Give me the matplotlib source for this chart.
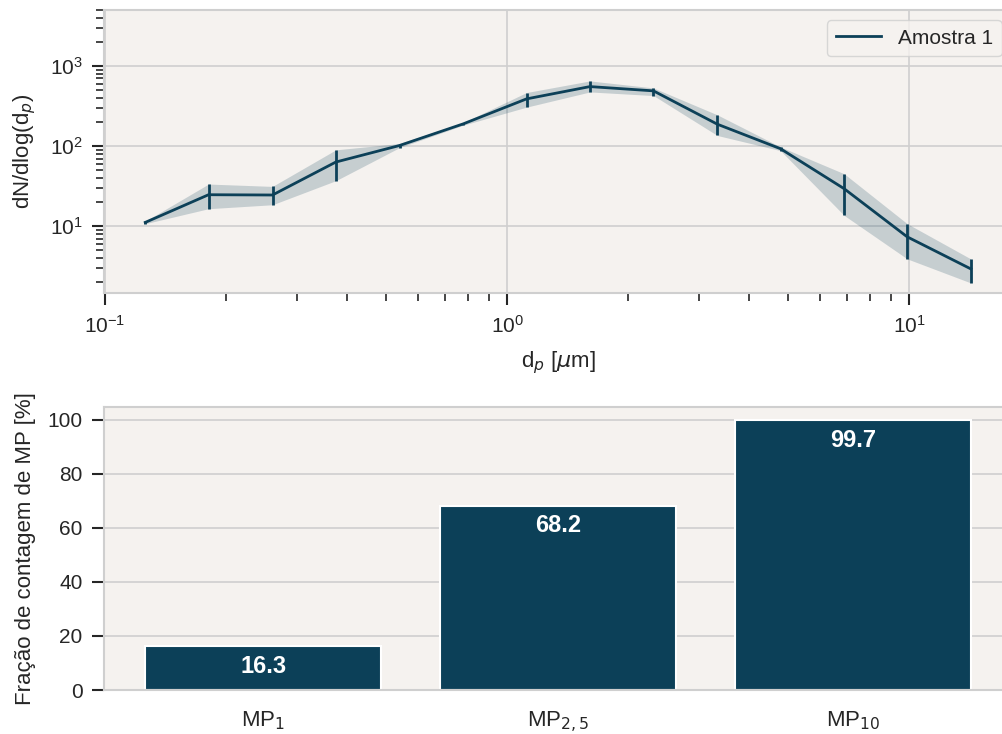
import numpy as np
import matplotlib
matplotlib.use("Agg")
import matplotlib.pyplot as plt

# Size distribution (bin mid diameters in um) with lower/upper bounds
dp = [0.126, 0.181, 0.261, 0.375, 0.54, 0.778, 1.117, 1.606, 2.31, 3.33, 4.78, 6.88, 9.87, 14.2]
dn = [11.2, 24.8, 24.6, 63.4, 102, 190, 389, 554, 490, 188, 93, 29.5, 7.4, 2.95]
dn_low = [10.8, 16.6, 18.6, 37.1, 96, 183, 307, 475, 428, 136, 88, 13.7, 3.93, 1.97]
dn_high = [11.6, 33.7, 31.5, 90, 108, 197, 467, 652, 533, 246, 98, 45.3, 10.8, 3.93]
series_label = "Amostra 1"

# Count fraction per PM class
categories = ["MP$_{1}$", "MP$_{2,5}$", "MP$_{10}$"]
fractions = [16.3, 68.2, 99.7]

color = "#0c4058"
face = "#f5f2ef"
grid_c = "#cfcfcf"

plt.rcParams.update({
    "font.family": ["Liberation Sans", "DejaVu Sans"],
    "font.size": 15,
    "axes.facecolor": face,
    "axes.edgecolor": grid_c,
    "axes.linewidth": 1.5,
    "axes.labelcolor": "#262626",
    "axes.labelsize": 16,
    "xtick.color": "#262626",
    "ytick.color": "#262626",
    "text.color": "#262626",
    "xtick.labelsize": 15,
    "ytick.labelsize": 15,
    "legend.fontsize": 15,
})

fig = plt.figure(figsize=(10.03, 7.34), dpi=100)
W, H = 1003.0, 734.0
ax1 = fig.add_axes([104 / W, 1 - 293 / H, 908 / W, 283 / H])
ax2 = fig.add_axes([104 / W, 1 - 690 / H, 908 / W, 283 / H])

for ax in (ax1, ax2):
    ax.grid(True, which="major", color=grid_c, linewidth=1.2)
    ax.set_axisbelow(True)
    ax.tick_params(which="major", length=8.5, width=1.5, pad=7, colors="#262626")
    ax.tick_params(which="minor", length=5.5, width=1.2, pad=7, colors="#262626")
    ax.tick_params(axis="x", top=False)
    ax.tick_params(axis="y", right=False)

# Top: size distribution
ax1.fill_between(dp, dn_low, dn_high, color=color, alpha=0.2, linewidth=0)
ax1.plot(dp, dn, color=color, linewidth=2, label=series_label)
err = [np.array(dn) - np.array(dn_low), np.array(dn_high) - np.array(dn)]
ax1.errorbar(dp, dn, yerr=err, fmt="none", ecolor=color, elinewidth=2, capsize=0)
ax1.set_xscale("log")
ax1.set_yscale("log")
ax1.set_ylim(top=5000)
ax1.set_xlabel(r"d$_p$ [$\mu$m]", labelpad=9)
ax1.set_ylabel(r"dN/dlog(d$_p$)", labelpad=8)
leg = ax1.legend(loc="upper right", frameon=True, fancybox=True, facecolor=face,
                 edgecolor=grid_c, framealpha=0.8, handlelength=2.2)

# Bottom: count fractions
x = np.arange(len(categories))
bars = ax2.bar(x, fractions, width=0.8, color=color, edgecolor="white", linewidth=1.5)
ax2.set_xticks(x)
ax2.set_xticklabels(categories, fontsize=16)
ax2.set_ylabel("Fração de contagem de MP [%]", labelpad=8)
ax2.grid(False, axis="x")
ax2.tick_params(axis="x", length=0, pad=14)
for rect, val in zip(bars, fractions):
    ax2.annotate(f"{val:.1f}", (rect.get_x() + rect.get_width() / 2, val),
                 xytext=(0, -14.5), textcoords="offset points", ha="center", va="center",
                 color="white", fontweight="bold", fontsize=17)

fig.savefig("out.png", dpi=100)
